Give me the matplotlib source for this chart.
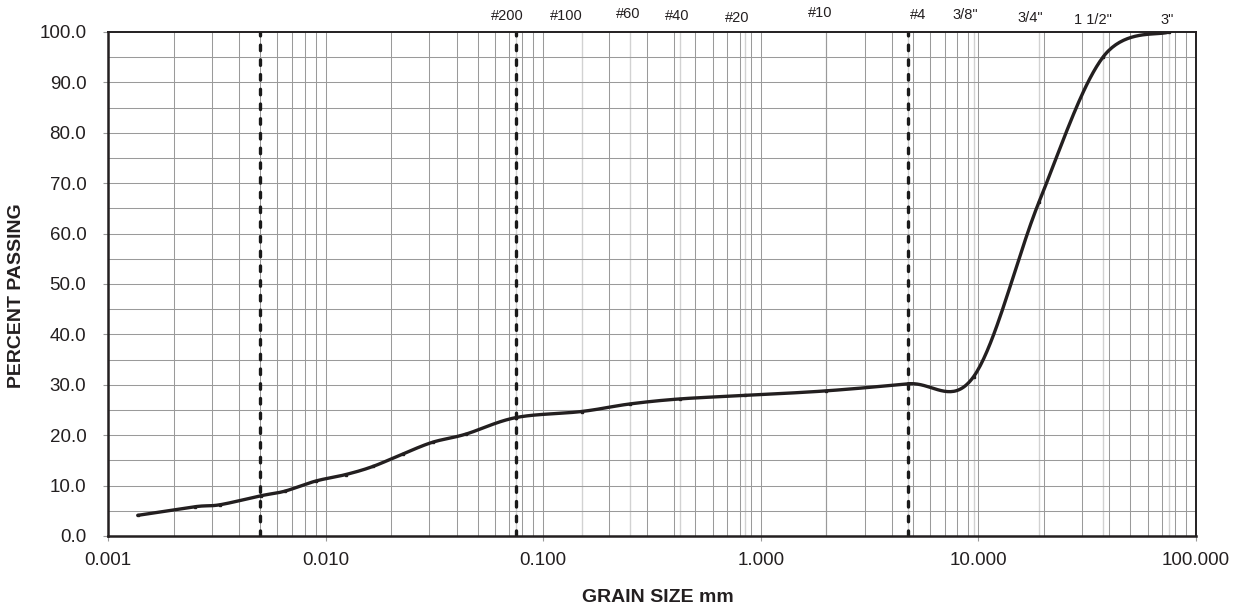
import numpy as np
import matplotlib
matplotlib.use("Agg")
import matplotlib.pyplot as plt
from matplotlib.ticker import FixedLocator, FuncFormatter, NullFormatter
import matplotlib.transforms as mtransforms

# ---------------- data ----------------
grain_size_mm = [0.00137, 0.0025, 0.00327, 0.00506, 0.0065, 0.009, 0.0124, 0.0165,
                 0.0227, 0.031, 0.044, 0.075, 0.15, 0.25, 0.425, 0.85, 2.0, 4.75,
                 9.5, 19.0, 37.5, 75.0]
percent_passing = [4.1, 5.8, 6.2, 8.0, 8.9, 10.9, 12.2, 13.8, 16.3, 18.6, 20.2, 23.5,
                   24.7, 26.2, 27.2, 27.9, 28.8, 30.2, 31.6, 66.3, 95.1, 100.0]

boundary_sizes = [0.005, 0.075, 4.75]          # dashed vertical lines
sieve_sizes = [0.075, 0.15, 0.25, 0.425, 0.85, 2.0, 4.75, 9.5, 19.0, 37.5, 75.0]
sieve_labels = ['#200', '#100', '#60', '#40', '#20', '#10', '#4',
                '3/8"', '3/4"', '1 1/2"', '3"']
label_x = [0.0686, 0.1283, 0.2455, 0.415, 0.7756, 1.883, 5.268, 8.69, 17.29, 33.66, 73.7]
label_y_px = [16, 16, 13.5, 15.5, 17.5, 13, 15, 15, 17.5, 19.5, 20]   # px from top

x_ticks = [0.001, 0.01, 0.1, 1, 10, 100]
y_ticks = list(range(0, 101, 10))

# ---------------- figure ----------------
W, H = 1238, 608
plt.rcParams['font.family'] = ['Liberation Sans', 'DejaVu Sans']
plt.rcParams['lines.scale_dashes'] = False
fig = plt.figure(figsize=(W / 100, H / 100), dpi=100)
ax_left, ax_right, ax_top, ax_bottom = 108, 1196, 32, 536
ax = fig.add_axes([ax_left / W, (H - ax_bottom) / H,
                   (ax_right - ax_left) / W, (ax_bottom - ax_top) / H])

ax.set_xscale('log')
ax.set_xlim(0.001, 100)
ax.set_ylim(0, 100)

grid_col = '#9a9a9a'
# vertical grid: decades and minor 2..9
minor_x = [m * 10.0 ** e for e in range(-3, 2) for m in range(2, 10)]
for xv in minor_x + x_ticks[1:-1]:
    ax.axvline(xv, color=grid_col, lw=0.75, zorder=1)
for xv in sieve_sizes:
    ax.axvline(xv, color='#d2d2d2', lw=1.0, zorder=0.9)
for yv in range(5, 100, 5):
    ax.axhline(yv, color=grid_col, lw=0.75, zorder=1)

# dashed boundaries
for xv in boundary_sizes:
    ax.axvline(xv, color='#1a1a1a', lw=2.4, dashes=(4.0, 6.6),
               dash_capstyle='round', zorder=3)

# smoothed curve (Excel-like Catmull-Rom in display space)
pts = ax.transData.transform(np.column_stack([grain_size_mm, percent_passing]))
n = len(pts)
curve = []
t = np.linspace(0, 1, 40)[:, None]
for i in range(n - 1):
    p0 = pts[i - 1] if i > 0 else pts[i]
    p1 = pts[i]
    p2 = pts[i + 1]
    p3 = pts[i + 2] if i + 2 < n else pts[i + 1]
    c1 = p1 + (p2 - p0) / 6.0
    c2 = p2 - (p3 - p1) / 6.0
    seg = ((1 - t) ** 3) * p1 + 3 * ((1 - t) ** 2) * t * c1 + 3 * (1 - t) * t ** 2 * c2 + t ** 3 * p2
    curve.append(seg if i == 0 else seg[1:])
curve = np.vstack(curve)
curve_data = ax.transData.inverted().transform(curve)
ax.plot(curve_data[:, 0], curve_data[:, 1], color='#231f20', lw=2.4,
        solid_capstyle='round', zorder=4)
ax.plot(grain_size_mm, percent_passing, linestyle='none', marker='s', ms=2.0,
        color='#231f20', zorder=5)

# ticks and labels
ax.xaxis.set_major_locator(FixedLocator(x_ticks))
ax.xaxis.set_minor_locator(FixedLocator([]))
ax.xaxis.set_minor_formatter(NullFormatter())
ax.xaxis.set_major_formatter(FuncFormatter(lambda v, p: f"{v:.3f}"))
ax.yaxis.set_major_locator(FixedLocator(y_ticks))
ax.yaxis.set_major_formatter(FuncFormatter(lambda v, p: f"{v:.1f}"))
ax.tick_params(axis='both', direction='out', length=3.6, width=0.8,
               color='#9a9a9a', labelsize=13.5, labelcolor='#231f20')
ax.tick_params(axis='y', pad=12)
ax.tick_params(axis='x', pad=8)

for sp in ax.spines.values():
    sp.set_color('#231f20')
    sp.set_linewidth(1.4)
    sp.set_zorder(6)
ax.spines['left'].set_linewidth(1.8)
ax.spines['bottom'].set_linewidth(1.8)

# sieve labels above the plot
trans = mtransforms.blended_transform_factory(ax.transData, ax.transAxes)
for lab, xv, ypx in zip(sieve_labels, label_x, label_y_px):
    yf = (ax_bottom - ypx) / (ax_bottom - ax_top)
    ax.text(xv, yf, lab, transform=trans, ha='center', va='center',
            fontsize=10.5, color='#231f20', clip_on=False)

fig.text(657.5 / W, (H - 597) / H, 'GRAIN SIZE mm', ha='center', va='center',
         fontsize=14, fontweight='bold', color='#231f20')
fig.text(16.5 / W, (H - 296) / H, 'PERCENT PASSING', ha='center', va='center',
         rotation=90, fontsize=14, fontweight='bold', color='#231f20')

fig.savefig('out.png', dpi=100)
